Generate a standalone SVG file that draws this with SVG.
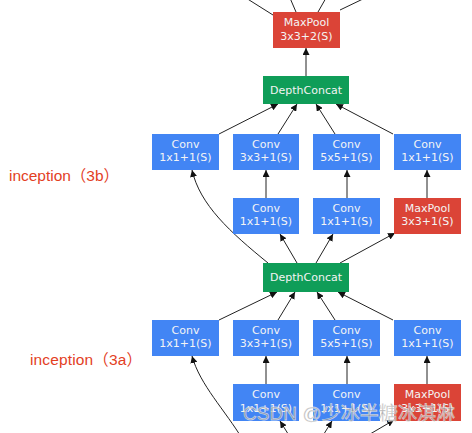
<svg xmlns="http://www.w3.org/2000/svg" width="472" height="433" viewBox="0 0 472 433">
<defs>
<marker id="ah" viewBox="0 0 10 10" refX="10" refY="5" markerWidth="7" markerHeight="7" markerUnits="userSpaceOnUse" orient="auto">
<path d="M0,0 L10,5 L0,10 z" fill="#111"/>
</marker>
<style>
.n text{font-family:"DejaVu Sans",sans-serif;font-size:11px;fill:#f4f4f4;text-anchor:middle}
.b{fill:#4285f4}
.r{fill:#db4437}
.g{fill:#0f9d58}
.e path,.e line{stroke:#222;stroke-width:1;fill:none}
.a{marker-end:url(#ah)}
.lab{font-family:"Liberation Sans","Noto Sans CJK SC",sans-serif;font-size:15.5px;fill:#e3401f}
</style>
</defs>
<rect width="472" height="433" fill="#fff"/>

<g id="connectors" class="e">
<line x1="273" y1="15" x2="246" y2="-2"/>
<line x1="296" y1="12" x2="290" y2="-2"/>
<line x1="318" y1="12" x2="326" y2="-2"/>
<line x1="340" y1="10" x2="365" y2="-2"/>
<line class="a" x1="306" y1="76" x2="306" y2="48"/>
<line class="a" x1="219" y1="134" x2="278" y2="104"/>
<line class="a" x1="278" y1="134" x2="297" y2="104"/>
<line class="a" x1="335" y1="134" x2="316" y2="104"/>
<line class="a" x1="393" y1="134" x2="336" y2="104"/>
<line class="a" x1="266" y1="198" x2="266" y2="170"/>
<line class="a" x1="347" y1="198" x2="347" y2="170"/>
<line class="a" x1="427" y1="198" x2="427" y2="170"/>
<path class="a" d="M268,263 C230,232 200,205 192,170"/>
<line class="a" x1="297" y1="263" x2="280" y2="234"/>
<line class="a" x1="316" y1="263" x2="333" y2="234"/>
<line class="a" x1="340" y1="263" x2="395" y2="233"/>
<line class="a" x1="219" y1="320" x2="277" y2="292"/>
<line class="a" x1="278" y1="320" x2="295" y2="292"/>
<line class="a" x1="335" y1="320" x2="317" y2="292"/>
<line class="a" x1="393" y1="320" x2="338" y2="292"/>
<line class="a" x1="266" y1="384" x2="266" y2="356"/>
<line class="a" x1="347" y1="384" x2="347" y2="356"/>
<line class="a" x1="427" y1="384" x2="427" y2="356"/>
<path class="a" d="M243,440 C225,410 200,385 192,356"/>
<line class="a" x1="290" y1="437" x2="280" y2="421"/>
<line class="a" x1="322" y1="437" x2="332" y2="421"/>
<line class="a" x1="365" y1="437" x2="394" y2="420"/>
</g>

<g id="maxpool_top" class="n"><rect class="r" x="273" y="12" width="67" height="36"/><text x="306.5" y="26">MaxPool</text><text x="306.5" y="40">3x3+2(S)</text></g>
<g id="concat_3b" class="n"><rect class="g" x="263" y="76" width="86" height="28"/><text x="306" y="94">DepthConcat</text></g>

<g id="b_conv1" class="n"><rect class="b" x="152" y="134" width="67" height="36"/><text x="185.5" y="148">Conv</text><text x="185.5" y="161">1x1+1(S)</text></g>
<g id="b_conv3" class="n"><rect class="b" x="233" y="134" width="66" height="36"/><text x="266" y="148">Conv</text><text x="266" y="161">3x3+1(S)</text></g>
<g id="b_conv5" class="n"><rect class="b" x="313" y="134" width="67" height="36"/><text x="346.5" y="148">Conv</text><text x="346.5" y="161">5x5+1(S)</text></g>
<g id="b_convp" class="n"><rect class="b" x="394" y="134" width="67" height="36"/><text x="427.5" y="148">Conv</text><text x="427.5" y="161">1x1+1(S)</text></g>
<g id="b_red3" class="n"><rect class="b" x="233" y="198" width="66" height="36"/><text x="266" y="212">Conv</text><text x="266" y="225">1x1+1(S)</text></g>
<g id="b_red5" class="n"><rect class="b" x="313" y="198" width="67" height="36"/><text x="346.5" y="212">Conv</text><text x="346.5" y="225">1x1+1(S)</text></g>
<g id="b_pool" class="n"><rect class="r" x="394" y="198" width="67" height="36"/><text x="427.5" y="212">MaxPool</text><text x="427.5" y="225">3x3+1(S)</text></g>

<g id="concat_3a" class="n"><rect class="g" x="263" y="263" width="86" height="29"/><text x="306" y="281">DepthConcat</text></g>

<g id="a_conv1" class="n"><rect class="b" x="152" y="320" width="67" height="36"/><text x="185.5" y="334">Conv</text><text x="185.5" y="347">1x1+1(S)</text></g>
<g id="a_conv3" class="n"><rect class="b" x="233" y="320" width="66" height="36"/><text x="266" y="334">Conv</text><text x="266" y="347">3x3+1(S)</text></g>
<g id="a_conv5" class="n"><rect class="b" x="313" y="320" width="67" height="36"/><text x="346.5" y="334">Conv</text><text x="346.5" y="347">5x5+1(S)</text></g>
<g id="a_convp" class="n"><rect class="b" x="394" y="320" width="67" height="36"/><text x="427.5" y="334">Conv</text><text x="427.5" y="347">1x1+1(S)</text></g>
<g id="a_red3" class="n"><rect class="b" x="233" y="384" width="66" height="37"/><text x="266" y="398">Conv</text><text x="266" y="412">1x1+1(S)</text></g>
<g id="a_red5" class="n"><rect class="b" x="313" y="384" width="67" height="37"/><text x="346.5" y="398">Conv</text><text x="346.5" y="412">1x1+1(S)</text></g>
<g id="a_pool" class="n"><rect class="r" x="394" y="384" width="67" height="37"/><text x="427.5" y="398">MaxPool</text><text x="427.5" y="412">3x3+1(S)</text></g>

<text class="lab" x="9" y="181" textLength="110">inception（3b）</text>
<text class="lab" x="30" y="365" textLength="112">inception（3a）</text>

<text x="243" y="420" font-family="'Liberation Sans','Noto Sans CJK SC',sans-serif" font-size="19" fill="#8a8a8a" fill-opacity="0.75" stroke="#ffffff" stroke-opacity="0.6" stroke-width="0.8" textLength="212">CSDN @少冰半糖冰淇淋</text>
</svg>
